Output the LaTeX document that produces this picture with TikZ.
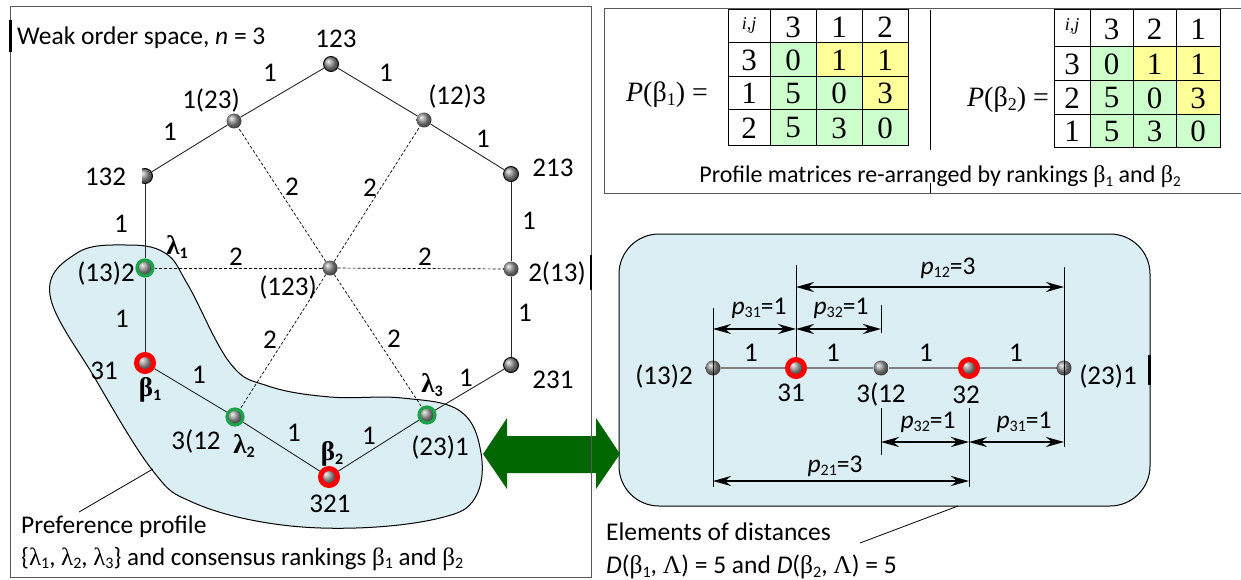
\documentclass[tikz,border=0pt]{standalone}
\usepackage{fontspec}
\setmainfont{Carlito}
\newfontfamily\tnr{Liberation Serif}
\usetikzlibrary{arrows.meta}
\newcommand\fs{\fontsize{25.5}{30}\selectfont}
\newcommand\fsn{\fontsize{27}{30}\selectfont}
\newcommand\lowsub[2][16]{\raisebox{-0.3ex}{\fontsize{#1}{#1}\selectfont #2}}
\newcommand\gk[1]{{\tnr #1}}
\newcommand\gkb[1]{{\tnr\bfseries #1}}
\newcommand\pp[2]{\textit{p}\lowsub{#1}=#2}
\definecolor{blobblue}{HTML}{DAEEF3}
\definecolor{cellgreen}{HTML}{CCFFCC}
\definecolor{cellyellow}{HTML}{FFFF99}
\definecolor{arrowgreen}{HTML}{006600}
\definecolor{ringgreen}{HTML}{1BA34A}
\begin{document}
\begin{tikzpicture}[x=1pt,y=-1pt,
 ball/.style={circle,inner sep=0pt,minimum size=15pt,shading=ball,ball color=gray!85},
 cball/.style={ball,draw=black,line width=0.9pt},
 redring/.style={ball,minimum size=17pt,draw=red,line width=5pt},
 greenring/.style={ball,minimum size=16pt,draw=ringgreen,line width=3.2pt},
 lbl/.style={font=\fs,inner sep=0pt},
 nlbl/.style={font=\fsn,inner sep=0pt},
 mtxt/.style={font=\tnr\fontsize{31}{32}\selectfont,inner sep=0pt},
 ptxt/.style={font=\tnr\fontsize{28}{30}\selectfont,inner sep=0pt},
 htxt/.style={font=\tnr\itshape\fontsize{18}{19}\selectfont,inner sep=0pt},
 edge/.style={draw=black!85,line width=0.9pt},
 dedge/.style={draw=black,line width=0.7pt,dash pattern=on 3pt off 2pt},
 frame/.style={draw=black!65,line width=1pt},
 ext/.style={draw=black,line width=0.9pt},
 dim/.style={draw=black,line width=2.2pt,{Stealth[length=18pt,width=10pt,inset=6pt]}-{Stealth[length=18pt,width=10pt,inset=6pt]}},
]
\useasboundingbox (0,0) rectangle (1241,580);
\fill[white] (0,0) rectangle (1241,580);

% ---------- right panel box ----------
\filldraw[fill=blobblue,draw=black,line width=1pt,rounded corners=40pt] (619,234) rectangle (1150,506);
\draw[line width=3pt] (1149,355) -- (1149,385);

% ---------- green double arrow ----------
\fill[arrowgreen] (483,454) -- (507,418) -- (507,436) -- (596,436) -- (596,418) -- (620,454)
  -- (596,489) -- (596,473) -- (507,473) -- (507,489) -- cycle;

% ---------- left frame ----------
\draw[frame] (10,7) rectangle (591,577);
\draw[line width=3pt] (10,20) -- (10,52);
\draw[line width=2.5pt] (591,255) -- (591,290);

\node[lbl,anchor=west] (title) at (17,38) {Weak order space, \textit{n} = 3};

% ---------- blob ----------
\filldraw[fill=blobblue,draw=black,line width=1pt] plot[smooth cycle,tension=0.65] coordinates
 {(50,295) (77,253) (126,245) (165,253) (188,285) (230,363) (268,386) (330,397) (402,398)
  (460,411) (481,453) (475,498) (440,518) (356,528) (268,523) (192,502) (153,471) (96,380)};

% ---------- graph nodes ----------
\node[cball] (n123) at (331,64) {};
\node[ball] (n1_23) at (234,121) {};
\node[ball] (n12_3) at (424,120) {};
\node[cball] (n132) at (145,176) {};
\node[cball] (n213) at (511,174) {};
\node[greenring] (n13_2) at (145,268) {};
\node[ball] (nc) at (330,268) {};
\node[ball] (n2_13) at (511,269) {};
\node[redring] (n31) at (145,363) {};
\node[greenring] (n3_12) at (235,417) {};
\node[redring] (n321) at (329,477) {};
\node[greenring] (n23_1) at (427,415) {};
\node[cball] (n231) at (511,365) {};

\draw[edge] (n123) -- (n1_23);
\draw[edge] (n1_23) -- (n132);
\draw[edge] (n123) -- (n12_3);
\draw[edge] (n12_3) -- (n213);
\draw[edge] (n132) -- (n13_2);
\draw[edge] (n13_2) -- (n31);
\draw[edge] (n213) -- (n2_13);
\draw[edge] (n2_13) -- (n231);
\draw[edge] (n31) -- (n3_12);
\draw[edge] (n3_12) -- (n321);
\draw[edge] (n321) -- (n23_1);
\draw[edge] (n23_1) -- (n231);
\draw[dedge] (nc) -- (n1_23);
\draw[dedge] (nc) -- (n12_3);
\draw[dedge] (nc) -- (n13_2);
\draw[dedge] (nc) -- (n2_13);
\draw[dedge] (nc) -- (n3_12);
\draw[dedge] (nc) -- (n23_1);

% node labels
\node[nlbl] (l123) at (336,39) {123};
\node[nlbl] (l1_23) at (211,100) {1(23)};
\node[nlbl] (l12_3) at (457,96) {(12)3};
\node[nlbl,fill=white,inner ysep=2pt,inner xsep=1pt,text width=52pt,align=left] (l132) at (115,177) {\hspace*{-4pt}132};
\node[nlbl] (l213) at (553,168) {213};
\node[nlbl] (l13_2) at (106,273) {(13)2};
\node[nlbl] (lc) at (288,287) {(123)};
\node[nlbl] (l2_13) at (557,273) {2(13)};
\node[nlbl] (l31) at (104,371) {31};
\node[nlbl] (l3_12) at (196,442) {3(12};
\node[nlbl] (l321) at (330,504) {321};
\node[nlbl] (l23_1) at (440,447) {(23)1};
\node[nlbl] (l231) at (553,380) {231};
\node[nlbl] (lam1) at (177,247) {\gkb{λ}\lowsub{\bfseries 1}};
\node[nlbl] (bet1) at (150,390) {\gkb{β}\lowsub{\bfseries 1}};
\node[nlbl] (lam2) at (244,446) {\gkb{λ}\lowsub{\bfseries 2}};
\node[nlbl] (bet2) at (332,454) {\gkb{β}\lowsub{\bfseries 2}};
\node[nlbl] (lam3) at (432,385) {\gkb{λ}\lowsub{\bfseries 3}};

% edge weights
\node[nlbl] (w1) at (270,73) {1};
\node[nlbl] (w2) at (386,73) {1};
\node[nlbl] (w3) at (170,132) {1};
\node[nlbl] (w4) at (483,139) {1};
\node[nlbl] (w5) at (121,224) {1};
\node[nlbl] (w6) at (529,221) {1};
\node[nlbl] (w7) at (122,319) {1};
\node[nlbl] (w8) at (525,313) {1};
\node[nlbl] (w9) at (199,375) {1};
\node[nlbl] (w10) at (294,433) {1};
\node[nlbl] (w11) at (369,436) {1};
\node[nlbl] (w12) at (466,378) {1};
\node[nlbl] (d1) at (292,187) {2};
\node[nlbl] (d2) at (370,188) {2};
\node[nlbl] (d3) at (236,257) {2};
\node[nlbl] (d4) at (425,257) {2};
\node[nlbl] (d5) at (270,340) {2};
\node[nlbl] (d6) at (394,339) {2};

% pointer + caption
\coordinate (pa) at (153,469);
\coordinate (pb) at (79,512);
\draw[line width=0.8pt] (pa) -- (pb);
\node[lbl,anchor=west] (cap1) at (21,527) {Preference profile};
\node[lbl,anchor=west,font=\fontsize{25}{30}\selectfont] (cap2) at (21,559) {\{\gk{λ}\lowsub{1}, \gk{λ}\lowsub{2}, \gk{λ}\lowsub{3}\} and consensus rankings \gk{β}\lowsub{1} and \gk{β}\lowsub{2}};

% ---------- top-right box with matrices ----------
\draw[frame] (1241,9) -- (604,9) -- (604,193) -- (1241,193);
\draw[line width=1pt] (930,10) -- (930,150);
\draw[line width=1pt] (930,183) -- (930,193);

% matrix 1
\fill[cellgreen] (770,43) rectangle (908,146);
\fill[cellyellow] (816,43) rectangle (908,77);
\fill[cellyellow] (862,77) rectangle (908,110);
\draw[line width=1pt] (728,10) rectangle (908,146);
\foreach \xx in {770,816,862} \draw[line width=1pt] (\xx,10) -- (\xx,146);
\foreach \yy in {43,77,110} \draw[line width=1pt] (728,\yy) -- (908,\yy);
\node[htxt] (m1h) at (749,25) {i,j};
\foreach \t [count=\i] in {3,1,2} {
  \pgfmathsetmacro\cx{{793,839,885}[\i-1]}
  \node[mtxt] (m1c\i) at (\cx,27) {\t};
}
\foreach \t [count=\i] in {3,1,2} {
  \pgfmathsetmacro\cy{{60,93.5,128}[\i-1]}
  \node[mtxt] (m1r\i) at (749,\cy) {\t};
}
\node[mtxt] (m1a) at (793,60) {0};
\node[mtxt] (m1b) at (839,60) {1};
\node[mtxt] (m1c) at (885,60) {1};
\node[mtxt] (m1d) at (793,93.5) {5};
\node[mtxt] (m1e) at (839,93.5) {0};
\node[mtxt] (m1f) at (885,93.5) {3};
\node[mtxt] (m1g) at (793,128) {5};
\node[mtxt] (m1i) at (839,128) {3};
\node[mtxt] (m1j) at (885,128) {0};
\node[ptxt] (P1) at (667,95) {\textit{P}(β\lowsub[18]{1}) =};

% matrix 2
\fill[cellgreen] (1090,47) rectangle (1220,148);
\fill[cellyellow] (1133,47) rectangle (1220,81);
\fill[cellyellow] (1176,81) rectangle (1220,115);
\draw[line width=1pt] (1054,10) rectangle (1220,148);
\foreach \xx in {1090,1133,1176} \draw[line width=1pt] (\xx,10) -- (\xx,148);
\foreach \yy in {47,81,115} \draw[line width=1pt] (1054,\yy) -- (1220,\yy);
\node[htxt] (m2h) at (1072,26) {i,j};
\foreach \t [count=\i] in {3,2,1} {
  \pgfmathsetmacro\cx{{1111.5,1154.5,1198}[\i-1]}
  \node[mtxt] (m2c\i) at (\cx,29) {\t};
}
\foreach \t [count=\i] in {3,2,1} {
  \pgfmathsetmacro\cy{{64,98,131.5}[\i-1]}
  \node[mtxt] (m2r\i) at (1072,\cy) {\t};
}
\node[mtxt] (m2a) at (1111.5,64) {0};
\node[mtxt] (m2b) at (1154.5,64) {1};
\node[mtxt] (m2c) at (1198,64) {1};
\node[mtxt] (m2d) at (1111.5,98) {5};
\node[mtxt] (m2e) at (1154.5,98) {0};
\node[mtxt] (m2f) at (1198,98) {3};
\node[mtxt] (m2g) at (1111.5,131.5) {5};
\node[mtxt] (m2i) at (1154.5,131.5) {3};
\node[mtxt] (m2j) at (1198,131.5) {0};
\node[ptxt] (P2) at (1008,100) {\textit{P}(β\lowsub[18]{2}) =};

\node[lbl,font=\fontsize{24}{28}\selectfont] (mcap) at (940,177) {Profile matrices re-arranged by rankings \gk{β}\lowsub[15]{1} and \gk{β}\lowsub[15]{2}};

% ---------- right panel contents ----------
\node[ball] (r1) at (713,368) {};
\node[redring] (r2) at (796,368) {};
\node[ball] (r3) at (881,368) {};
\node[redring] (r4) at (969,368) {};
\node[ball] (r5) at (1064,368) {};
\draw[draw=gray,line width=1.8pt] (r1) -- (r2);
\draw[draw=gray,line width=1.8pt] (r2) -- (r3);
\draw[draw=gray,line width=1.8pt] (r3) -- (r4);
\draw[draw=gray,line width=1.8pt] (r4) -- (r5);

\draw[ext] (r1 |- 0,308) -- (r1 |- 0,487);
\draw[ext] (r2 |- 0,265) -- (r2.north);
\draw[ext] (r3 |- 0,305) -- (r3 |- 0,333);
\draw[ext] (r3 |- 0,408) -- (r3 |- 0,455);
\draw[ext] (r4 |- 0,408) -- (r4 |- 0,487);
\draw[ext] (r5 |- 0,267) -- (r5 |- 0,447);

\draw[dim] (r2 |- 0,287) -- (r5 |- 0,287);
\draw[dim] (r1 |- 0,329) -- (r2 |- 0,329);
\draw[dim] (r2 |- 0,329) -- (r3 |- 0,329);
\draw[dim] (r3 |- 0,442) -- (r4 |- 0,442);
\draw[dim] (r4 |- 0,442) -- (r5 |- 0,442);
\draw[dim] (r1 |- 0,481) -- (r4 |- 0,481);

\node[lbl] (p12) at (948,268) {\pp{12}{3}};
\node[lbl] (p31a) at (759,308) {\pp{31}{1}};
\node[lbl] (p32a) at (841,308) {\pp{32}{1}};
\node[lbl] (p32b) at (928,422) {\pp{32}{1}};
\node[lbl] (p31b) at (1024,422) {\pp{31}{1}};
\node[lbl] (p21) at (835,466) {\pp{21}{3}};

\node[nlbl] (e1) at (751,353) {1};
\node[nlbl] (e2) at (833,353) {1};
\node[nlbl] (e3) at (926,353) {1};
\node[nlbl] (e4) at (1016,353) {1};

\node[nlbl] (rl1) at (664,376) {(13)2};
\node[nlbl] (rl2) at (791,393) {31};
\node[nlbl] (rl3) at (881,395) {3(12};
\node[nlbl] (rl4) at (966,395) {32};
\node[nlbl] (rl5) at (1108,376) {(23)1};

% pointer + caption
\coordinate (qa) at (958,506);
\coordinate (qb) at (860,543);
\draw[line width=0.8pt] (qa) -- (qb);
\node[lbl,anchor=west] (ecap1) at (606,532) {Elements of distances};
\node[lbl,anchor=west] (ecap2) at (606,567) {\textit{D}(\gk{β}\lowsub{1}, \gk{Λ}) = 5 and \textit{D}(\gk{β}\lowsub{2}, \gk{Λ}) = 5};
\end{tikzpicture}
\end{document}
